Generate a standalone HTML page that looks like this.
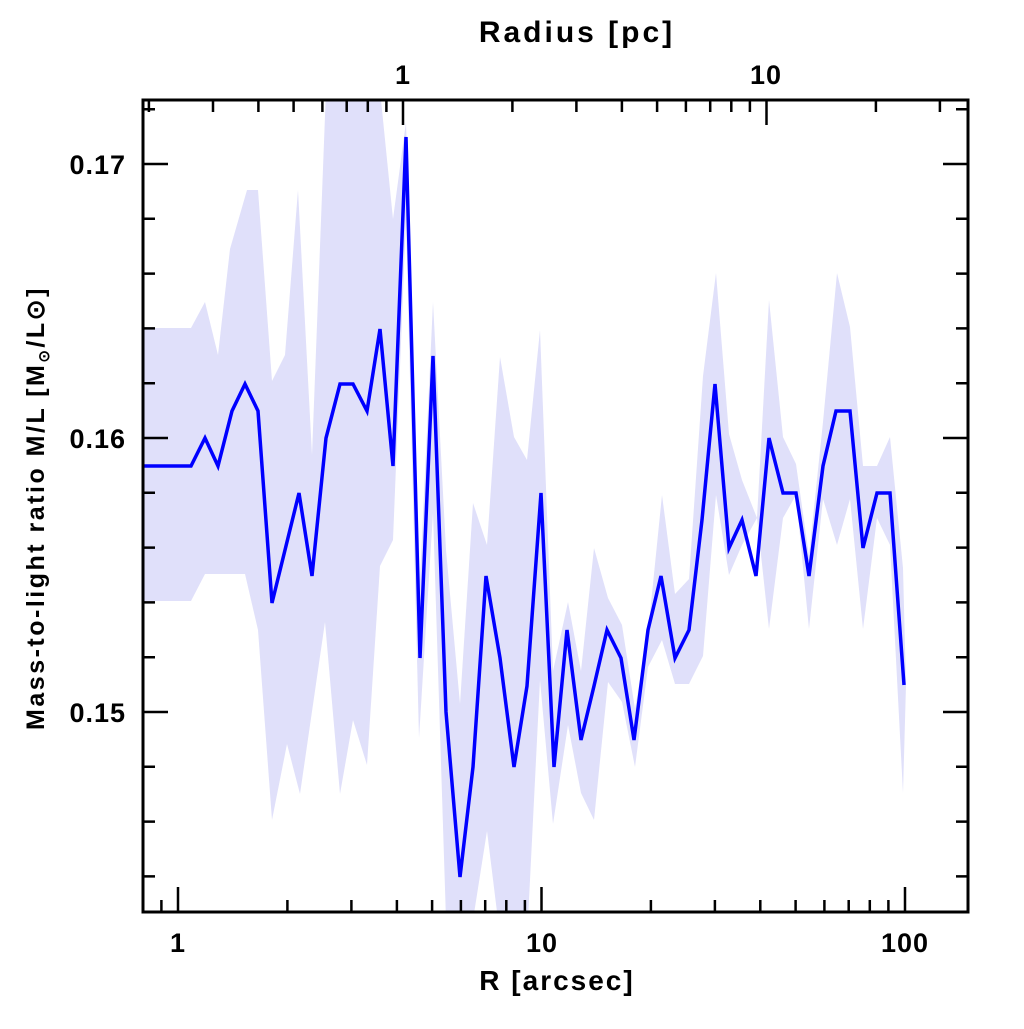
<!DOCTYPE html>
<html><head><meta charset="utf-8"><style>
html,body{margin:0;padding:0;background:#fff;}
svg text{font-family:"Liberation Sans",sans-serif;font-weight:bold;fill:#000;}
</style></head><body>
<svg width="1024" height="1024" viewBox="0 0 1024 1024" xmlns="http://www.w3.org/2000/svg">
<defs><clipPath id="c"><rect x="143" y="100" width="825" height="812"/></clipPath></defs>
<g clip-path="url(#c)">
<path fill="#e0e0fa" d="M143,328 L191,328 L205,302 L218,355 L230,249 L247,190 L258,190 L272,381 L285,355 L298,190 L312,455 L326,90 L380,90 L393,219 L406,122 L420,580 L433,302 L446,550 L460,704 L473,503 L487,545 L500,357 L514,437 L527,460 L540,330 L553,671 L568,602 L581,671 L594,548 L608,598 L622,625 L635,709 L648,633 L662,495 L675,594 L689,579 L703,376 L716,273 L729,434 L742,480 L757,518 L769,300 L783,437 L796,464 L809,556 L823,422 L837,273 L850,327 L863,466 L877,466 L890,437 L903,568 L906,685
L903,793 L890,545 L877,518 L863,629 L850,499 L837,545 L823,499 L809,629 L796,495 L783,518 L769,629 L757,518 L742,545 L729,575 L716,495 L703,656 L689,684 L675,684 L662,640 L648,667 L635,767 L622,702 L608,682 L594,820 L581,793 L568,725 L553,824 L540,680 L528,920 L498,920 L487,831 L473,920 L446,920 L433,513 L419,738 L406,219 L393,540 L380,566 L367,765 L353,720 L340,794 L325,622 L300,794 L287,744 L272,820 L258,630 L245,574 L205,574 L191,601 L143,601 Z"/>
<polyline fill="none" stroke="#0000ff" stroke-width="3.5" stroke-linejoin="miter" points="143,466 191,466 205,438 218,466 232,411 245,384 258,411 272,603 299,493 312,576 326,438 340,384 353,384 367,411 380,329 393,466 406,137 420,658 433,356 446,712 460,877 473,767 486,576 500,658 514,767 527,686 541,493 554,767 567,630 581,740 594,686 607,630 621,658 634,740 648,630 661,576 675,658 689,630 702,520 715,384 729,548 742,520 756,576 769,438 783,493 796,493 809,576 823,466 836,411 850,411 863,548 877,493 890,493 904,685"/>
</g>
<rect x="143" y="100" width="825" height="812" fill="none" stroke="#000" stroke-width="3"/>
<g stroke="#000" stroke-width="2.5">
<path d="M143,876.4h12M143,821.6h12M143,766.8h12M143,712h25M143,657.2h12M143,602.4h12M143,547.6h12M143,492.8h12M143,438h25M143,383.2h12M143,328.4h12M143,273.6h12M143,218.8h12M143,164h25M143,109.2h12"/>
<path d="M968,876.4h-12M968,821.6h-12M968,766.8h-12M968,712h-25M968,657.2h-12M968,602.4h-12M968,547.6h-12M968,492.8h-12M968,438h-25M968,383.2h-12M968,328.4h-12M968,273.6h-12M968,218.8h-12M968,164h-25M968,109.2h-12"/>
<path d="M161.4,912v-12M178,912v-25M287.4,912v-12M351.4,912v-12M396.9,912v-12M432.1,912v-12M460.9,912v-12M485.2,912v-12M506.3,912v-12M524.9,912v-12M541.5,912v-25M650.9,912v-12M714.9,912v-12M760.3,912v-12M795.6,912v-12M824.4,912v-12M848.7,912v-12M869.8,912v-12M888.4,912v-12M905,912v-25"/>
<path d="M148.9,100v12M213,100v12M258.4,100v12M293.6,100v12M322.4,100v12M346.7,100v12M367.8,100v12M386.4,100v12M403,100v25M512.4,100v12M576.4,100v12M621.9,100v12M657.1,100v12M685.9,100v12M710.2,100v12M731.3,100v12M749.9,100v12M766.5,100v25M875.9,100v12M939.9,100v12"/>
</g>
<g font-size="27" letter-spacing="1">
<text x="126" y="174" text-anchor="end">0.17</text>
<text x="126" y="448" text-anchor="end">0.16</text>
<text x="126" y="722" text-anchor="end">0.15</text>
<text x="178" y="952" text-anchor="middle">1</text>
<text x="542" y="952" text-anchor="middle">10</text>
<text x="905" y="952" text-anchor="middle">100</text>
<text x="403" y="84" text-anchor="middle">1</text>
<text x="766" y="84" text-anchor="middle">10</text>
<text x="577" y="42" text-anchor="middle" font-size="30" letter-spacing="3">Radius [pc]</text>
<text x="557" y="990" text-anchor="middle" font-size="28" letter-spacing="2">R [arcsec]</text>
<text transform="translate(44,508) rotate(-90)" text-anchor="middle" font-size="25" letter-spacing="2.5">Mass-to-light ratio M/L [M<tspan font-size="15" dy="5">⊙</tspan><tspan dy="-5">/L⊙]</tspan></text>
</g>
</svg>
</body></html>
